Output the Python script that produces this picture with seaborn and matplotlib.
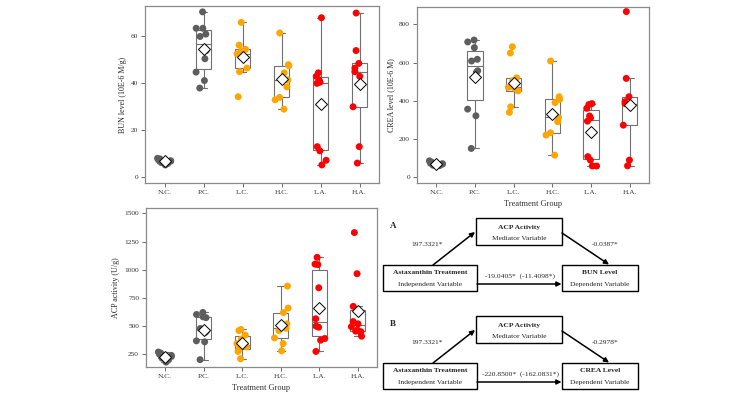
import matplotlib
matplotlib.use("Agg")
import matplotlib.pyplot as plt
from matplotlib.patches import Rectangle
import seaborn as sns
import pandas as pd
import numpy as np

# groups and colours
groups = ["N.C.", "P.C.", "L.C.", "H.C.", "L.A.", "H.A."]
group_colors = ["#5e5e5e", "#5e5e5e", "#FFA500", "#FFA500", "#FF0000", "#FF0000"]

# BUN level (10E-6 M/g)
bun_nc = [5.2, 5.8, 6.2, 6.5, 6.8, 7.0, 7.3, 7.8, 8.0]
bun_pc = [70.5, 63.5, 63.5, 61, 60, 54, 50.5, 44.8, 41.2, 38]
bun_lc = [66, 56.3, 54.5, 53.8, 52.5, 51, 46.5, 45, 34.3]
bun_hc = [61.5, 48, 47.5, 44.5, 41.5, 38.5, 34, 33, 29]
bun_la = [68, 44.5, 43, 41.5, 40.5, 40, 13, 11.2, 7.2, 5.2]
bun_ha = [70, 54, 48.5, 46.5, 45, 43, 30, 13, 6]

# CREA level (10E-6 M)
crea_nc = [58, 60, 62, 65, 68, 70, 72, 78, 85]
crea_pc = [718, 708, 678, 617, 608, 557, 549, 356, 321, 150]
crea_lc = [683, 650, 520, 505, 470, 465, 452, 368, 339]
crea_hc = [608, 421, 407, 390, 313, 290, 232, 220, 115]
crea_la = [385, 380, 360, 320, 310, 293, 107, 89, 58, 58]
crea_ha = [867, 517, 421, 395, 385, 378, 272, 89, 59]

# ACP activity (U/g)
acp_nc = [180, 200, 215, 225, 230, 240, 250, 260, 270]
acp_pc = [621, 603, 582, 575, 479, 455, 443, 369, 360, 202]
acp_lc = [470, 460, 420, 385, 345, 325, 315, 295, 275, 210]
acp_hc = [855, 660, 620, 520, 480, 460, 395, 345, 280]
acp_la = [1110, 1050, 1045, 840, 565, 500, 490, 390, 375, 275]
acp_ha = [1330, 965, 675, 540, 520, 495, 465, 455, 450, 410]


def long_df(lists):
    rows = []
    for g, vals in zip(groups, lists):
        for v in vals:
            rows.append({"group": g, "value": v})
    return pd.DataFrame(rows)


bun_df = long_df([bun_nc, bun_pc, bun_lc, bun_hc, bun_la, bun_ha])
crea_df = long_df([crea_nc, crea_pc, crea_lc, crea_hc, crea_la, crea_ha])
acp_df = long_df([acp_nc, acp_pc, acp_lc, acp_hc, acp_la, acp_ha])

sns.set_theme(style="white")
plt.rcParams["font.family"] = ["Liberation Serif", "DejaVu Serif"]

W, H = 756, 401
fig = plt.figure(figsize=(W / 100, H / 100), dpi=100)
fig.patch.set_facecolor("white")


def px_axes(x0, y0, x1, y1):
    return fig.add_axes([x0 / W, 1 - y1 / H, (x1 - x0) / W, (y1 - y0) / H])


ax_bun = px_axes(145, 6, 379, 183)
ax_crea = px_axes(417, 7, 649, 183)
ax_acp = px_axes(146, 208, 377, 367)

palette = dict(zip(groups, group_colors))


def draw_panel(ax, df, ylabel, ylim, yticks, xlabel=None):
    np.random.seed(3)
    sns.boxplot(data=df, x="group", y="value", order=groups, ax=ax, width=0.4,
                color="white", linecolor="#707070", linewidth=0.8,
                showfliers=False, showmeans=True,
                meanprops=dict(marker="D", markerfacecolor="white",
                               markeredgecolor="black", markeredgewidth=0.7,
                               markersize=6.5, zorder=10))
    sns.stripplot(data=df, x="group", y="value", order=groups, hue="group",
                  palette=palette, legend=False, jitter=0.2, size=5,
                  linewidth=0, ax=ax, zorder=3)
    ax.set_ylim(*ylim)
    ax.set_yticks(yticks)
    ax.set_ylabel(ylabel, fontsize=5.8, labelpad=3)
    ax.set_xlabel(xlabel if xlabel else "", fontsize=6, labelpad=4, color="#333333")
    ax.tick_params(axis="both", bottom=True, left=True, length=3, width=0.6,
                   color="#555555", labelsize=5.3, pad=2, labelcolor="#333333")
    for s in ax.spines.values():
        s.set_color("#8a8a8a")
        s.set_linewidth(0.9)


draw_panel(ax_bun, bun_df, "BUN level (10E-6 M/g)", (-2.5, 73), [0, 20, 40, 60])
draw_panel(ax_crea, crea_df, "CREA level (10E-6 M)", (-31, 891), [0, 200, 400, 600, 800],
           "Treatment Group")
draw_panel(ax_acp, acp_df, "ACP activity (U/g)", (137, 1548), [250, 500, 750, 1000, 1250, 1500],
           "Treatment Group")

# mediation diagrams
ax_d = fig.add_axes([0, 0, 1, 1])
ax_d.set_xlim(0, W)
ax_d.set_ylim(H, 0)
ax_d.axis("off")

panels = [
    ("A", 0, "197.3321*", "-0.0387*", "-19.0405*  (-11.4098*)", "BUN Level"),
    ("B", 98, "197.3321*", "-0.2978*", "-220.8500*  (-162.0831*)", "CREA Level"),
]
fs = 5.4
for letter, dy, a_coef, b_coef, c_coef, outcome in panels:
    ax_d.text(390, 226 + dy, letter, fontsize=6.5, fontweight="bold", ha="left", va="center")
    # boxes
    ax_d.add_patch(Rectangle((476, 218 + dy), 86, 27, fill=False, lw=1.0, ec="black"))
    ax_d.add_patch(Rectangle((383, 265 + dy), 94, 26, fill=False, lw=1.0, ec="black"))
    ax_d.add_patch(Rectangle((562, 265 + dy), 76, 26, fill=False, lw=1.0, ec="black"))
    # box texts
    ax_d.text(519, 227 + dy, "ACP Activity", fontsize=fs, fontweight="bold", ha="center", va="center")
    ax_d.text(519, 239 + dy, "Mediator Variable", fontsize=fs, ha="center", va="center")
    ax_d.text(430, 273 + dy, "Astaxanthin Treatment", fontsize=fs, fontweight="bold", ha="center", va="center")
    ax_d.text(430, 284.5 + dy, "Independent Variable", fontsize=fs, ha="center", va="center")
    ax_d.text(600, 273 + dy, outcome, fontsize=fs, fontweight="bold", ha="center", va="center")
    ax_d.text(600, 284.5 + dy, "Dependent Variable", fontsize=fs, ha="center", va="center")
    # arrows
    arrow = dict(arrowstyle="-|>", lw=1.1, color="black", mutation_scale=7,
                 shrinkA=0, shrinkB=0)
    ax_d.annotate("", xy=(475, 232 + dy), xytext=(433, 265 + dy), arrowprops=arrow)
    ax_d.annotate("", xy=(609, 264.5 + dy), xytext=(562, 233 + dy), arrowprops=arrow)
    ax_d.annotate("", xy=(561.5, 284 + dy), xytext=(477, 284 + dy), arrowprops=arrow)
    # coefficients
    ax_d.text(427, 244 + dy, a_coef, fontsize=fs, ha="center", va="center")
    ax_d.text(605, 244 + dy, b_coef, fontsize=fs, ha="center", va="center")
    ax_d.text(520, 276 + dy, c_coef, fontsize=fs, ha="center", va="center")

fig.savefig("out.png", dpi=100, facecolor="white")
